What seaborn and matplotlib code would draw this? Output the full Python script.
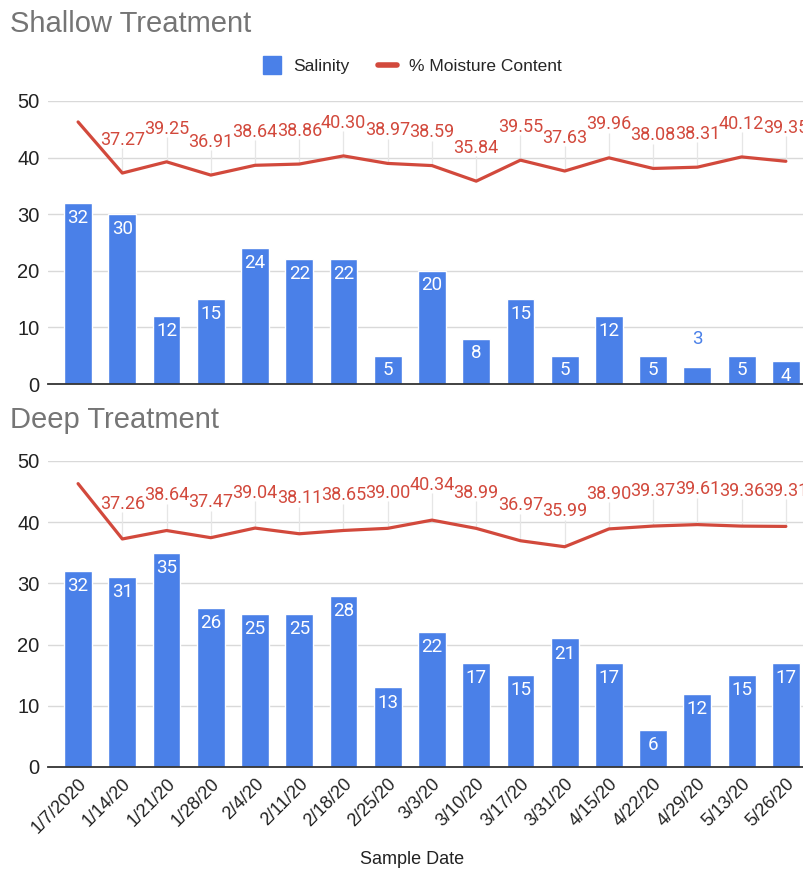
import numpy as np
import pandas as pd
import matplotlib
matplotlib.use("Agg")
import matplotlib.pyplot as plt
from matplotlib.lines import Line2D
import seaborn as sns

dates = ["1/7/2020", "1/14/20", "1/21/20", "1/28/20", "2/4/20", "2/11/20", "2/18/20",
         "2/25/20", "3/3/20", "3/10/20", "3/17/20", "3/31/20", "4/15/20", "4/22/20",
         "4/29/20", "5/13/20", "5/26/20"]

shallow_salinity = [32, 30, 12, 15, 24, 22, 22, 5, 20, 8, 15, 5, 12, 5, 3, 5, 4]
shallow_moisture = [46.3, 37.27, 39.25, 36.91, 38.64, 38.86, 40.30, 38.97, 38.59,
                    35.84, 39.55, 37.63, 39.96, 38.08, 38.31, 40.12, 39.35]

deep_salinity = [32, 31, 35, 26, 25, 25, 28, 13, 22, 17, 15, 21, 17, 6, 12, 15, 17]
deep_moisture = [46.3, 37.26, 38.64, 37.47, 39.04, 38.11, 38.65, 39.00, 40.34,
                 38.99, 36.97, 35.99, 38.90, 39.37, 39.61, 39.36, 39.31]

BLUE = "#4a80e8"
RED = "#d2493c"
GRID = "#d9d9d9"

sns.set_theme(style="white")
plt.rcParams["font.family"] = ["Liberation Sans", "DejaVu Sans"]

W, H = 804, 873
fig = plt.figure(figsize=(W / 100, H / 100), dpi=100)


def px_axes(left, top, right, bottom):
    return fig.add_axes([left / W, 1 - bottom / H, (right - left) / W, (bottom - top) / H])


def draw_panel(ax, salinity, moisture, show_x):
    df = pd.DataFrame({"date": dates, "salinity": salinity,
                       "moisture": moisture, "pos": np.arange(len(dates))})
    sns.barplot(data=df, x="date", y="salinity", color=BLUE, saturation=1,
                width=0.63, ax=ax, zorder=2)
    sns.lineplot(data=df, x="pos", y="moisture", color=RED, linewidth=2.3,
                 ax=ax, zorder=4)

    ax.set_ylim(0, 50)
    ax.set_xlim(-0.68, 16.41)
    ax.set_yticks(range(0, 51, 10))
    ax.grid(axis="y", color=GRID, linewidth=1)
    ax.set_axisbelow(True)
    for s in ["top", "right", "left"]:
        ax.spines[s].set_visible(False)
    ax.spines["bottom"].set_color("#333333")
    ax.spines["bottom"].set_linewidth(1.3)
    ax.tick_params(axis="y", length=0, labelsize=14.5, labelcolor="#222222", pad=6)
    ax.set_ylabel("")
    ax.set_xlabel("")

    # salinity values: inside the bar when it is tall enough, above it otherwise
    for i, v in enumerate(salinity):
        if v >= 4:
            ax.text(i, v - 1.0, f"{v}", ha="center", va="top", color="white",
                    fontsize=13.5, family="Roboto", zorder=5)
        else:
            ax.text(i, v + 3.3, f"{v}", ha="center", va="bottom", color=BLUE,
                    fontsize=13.5, family="Roboto", zorder=5)

    # moisture values with leader lines (first point is left unlabeled)
    for i, v in enumerate(moisture):
        if i == 0:
            continue
        ax.vlines(i, v, v + 4.4, color="#e6e6e6", linewidth=0.9, zorder=3)
        ax.text(i, v + 4.3, f"{v:.2f}", ha="center", va="bottom", color=RED,
                fontsize=13, family="Roboto", zorder=5, clip_on=False)

    if show_x:
        ax.set_xticks(range(len(dates)))
        ax.set_xticklabels(dates, rotation=45, ha="right", rotation_mode="anchor",
                           fontsize=13, color="#222222")
        ax.tick_params(axis="x", length=0, pad=6)
    else:
        ax.set_xticks([])


ax1 = px_axes(48, 101, 804, 384)
draw_panel(ax1, shallow_salinity, shallow_moisture, show_x=False)

ax2 = px_axes(48, 461, 804, 767)
draw_panel(ax2, deep_salinity, deep_moisture, show_x=True)

fig.text(10 / W, 1 - 24 / H, "Shallow Treatment", fontsize=21, color="#757575",
         ha="left", va="center")
fig.text(10 / W, 1 - 420 / H, "Deep Treatment", fontsize=21, color="#757575",
         ha="left", va="center")
fig.text(412 / W, 1 - 860 / H, "Sample Date", fontsize=13, color="#222222",
         ha="center", va="center")

handles = [
    Line2D([], [], marker="s", linestyle="none", markersize=13,
           markerfacecolor=BLUE, markeredgecolor=BLUE),
    Line2D([], [], color=RED, linewidth=4),
]
fig.legend(handles, ["Salinity", "% Moisture Content"], loc="center",
           bbox_to_anchor=(412 / W, 1 - 66 / H), ncol=2, frameon=False,
           fontsize=12.5, handlelength=1.1, handletextpad=0.7, columnspacing=1.6)

fig.savefig("out.png", dpi=100)
